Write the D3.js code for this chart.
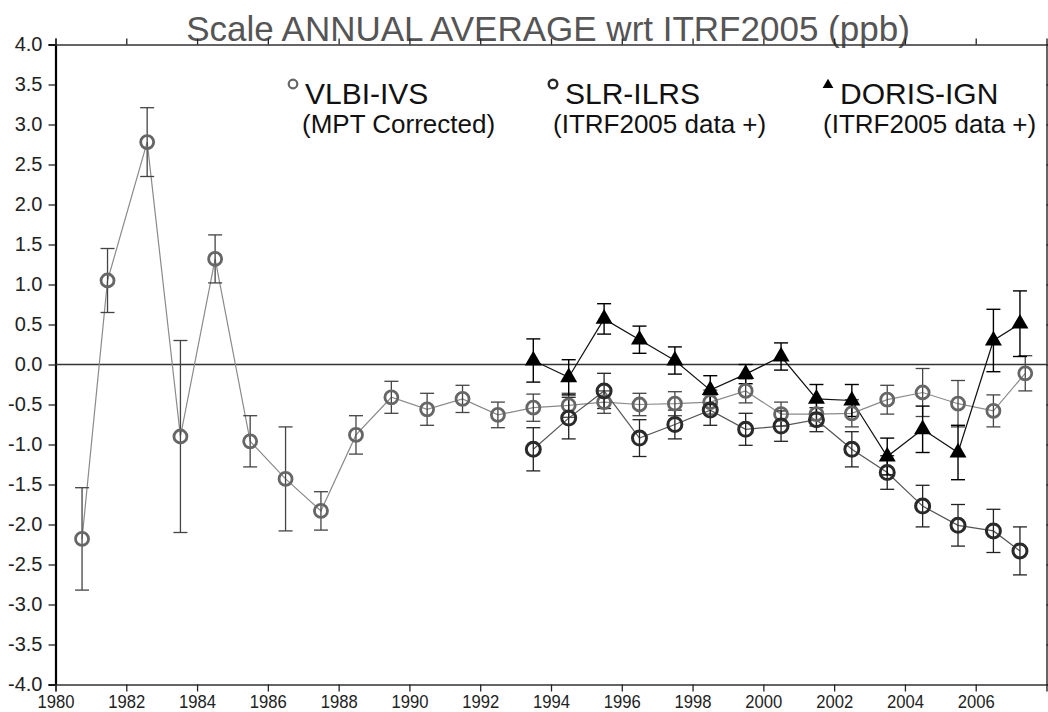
<!DOCTYPE html>
<html>
<head>
<meta charset="utf-8">
<script src="https://cdn.jsdelivr.net/npm/d3@7"></script>
<style>
  html, body { margin: 0; padding: 0; background: #fff; }
  svg { display: block; font-family: "Liberation Sans", Arial, sans-serif; }
</style>
</head>
<body>
<svg id="chart" width="1048" height="712"></svg>
<script>
// ---------- data ----------
const vlbiYears  = [1980.75, 1981.47, 1982.59, 1983.53, 1984.51, 1985.5, 1986.5, 1987.5, 1988.49, 1989.49, 1990.5, 1991.5, 1992.5, 1993.5, 1994.5, 1995.5, 1996.5, 1997.5, 1998.5, 1999.5, 2000.5, 2001.5, 2002.5, 2003.5, 2004.5, 2005.5, 2006.5, 2007.4];
const vlbiValues = [-2.18, 1.05, 2.78, -0.90, 1.32, -0.96, -1.43, -1.83, -0.88, -0.41, -0.56, -0.43, -0.63, -0.54, -0.51, -0.47, -0.50, -0.49, -0.47, -0.33, -0.62, -0.62, -0.61, -0.44, -0.35, -0.49, -0.58, -0.11];
const vlbiErrors = [0.64, 0.40, 0.43, 1.20, 0.30, 0.32, 0.65, 0.24, 0.24, 0.20, 0.20, 0.17, 0.16, 0.17, 0.15, 0.14, 0.14, 0.15, 0.15, 0.15, 0.15, 0.15, 0.17, 0.18, 0.30, 0.29, 0.20, 0.22];

const slrYears  = [1993.5, 1994.5, 1995.5, 1996.5, 1997.5, 1998.5, 1999.5, 2000.5, 2001.5, 2002.5, 2003.5, 2004.5, 2005.5, 2006.5, 2007.25];
const slrValues = [-1.06, -0.67, -0.33, -0.92, -0.75, -0.57, -0.81, -0.77, -0.69, -1.06, -1.35, -1.77, -2.01, -2.08, -2.33];
const slrErrors = [0.27, 0.26, 0.22, 0.23, 0.18, 0.19, 0.20, 0.19, 0.15, 0.22, 0.21, 0.26, 0.26, 0.27, 0.30];

const dorisYears  = [1993.5, 1994.5, 1995.5, 1996.5, 1997.5, 1998.5, 1999.5, 2000.5, 2001.5, 2002.5, 2003.5, 2004.5, 2005.5, 2006.5, 2007.25];
const dorisValues = [0.05, -0.16, 0.57, 0.31, 0.05, -0.32, -0.12, 0.10, -0.43, -0.45, -1.15, -0.81, -1.10, 0.30, 0.51];
const dorisErrors = [0.27, 0.22, 0.19, 0.17, 0.17, 0.18, 0.12, 0.17, 0.18, 0.20, 0.23, 0.29, 0.34, 0.39, 0.41];

const xTicks = [1980, 1982, 1984, 1986, 1988, 1990, 1992, 1994, 1996, 1998, 2000, 2002, 2004, 2006];
const yTicks = [-4.0, -3.5, -3.0, -2.5, -2.0, -1.5, -1.0, -0.5, 0.0, 0.5, 1.0, 1.5, 2.0, 2.5, 3.0, 3.5, 4.0];

const titleText = "Scale ANNUAL AVERAGE wrt ITRF2005 (ppb)";
const legendNames = ["VLBI-IVS", "SLR-ILRS", "DORIS-IGN"];
const legendSubs  = ["(MPT Corrected)", "(ITRF2005 data +)", "(ITRF2005 data +)"];

// ---------- layout ----------
const svg = d3.select("#chart");
const L = 55.5, R = 1046.5, T = 44.5, B = 684.5;
const x = d3.scaleLinear().domain([1980, 2008]).range([L, R]);
const y = d3.scaleLinear().domain([-4, 4]).range([B, T]);

const mk = (ys, vs, es) => ys.map((yr, i) => ({ yr, v: vs[i], e: es[i] }));
const vlbi = mk(vlbiYears, vlbiValues, vlbiErrors);
const slr = mk(slrYears, slrValues, slrErrors);
const doris = mk(dorisYears, dorisValues, dorisErrors);

// title
svg.append("text")
  .attr("x", 548).attr("y", 41)
  .attr("text-anchor", "middle")
  .attr("font-size", 35)
  .attr("fill", "#555")
  .text(titleText);

// axes
const fmtY = d => d.toFixed(1);
const gL = svg.append("g").attr("transform", `translate(${L},0)`)
  .call(d3.axisLeft(y).tickValues(yTicks).tickFormat(fmtY).tickSize(7).tickPadding(6));
const gB = svg.append("g").attr("transform", `translate(0,${B})`)
  .call(d3.axisBottom(x).tickValues(xTicks).tickFormat(d3.format("d")).tickSize(7).tickPadding(3));
const gT = svg.append("g").attr("transform", `translate(0,${T})`)
  .call(d3.axisTop(x).tickValues(xTicks).tickFormat("").tickSize(6));
const gR = svg.append("g").attr("transform", `translate(${R},0)`)
  .call(d3.axisRight(y).tickValues(yTicks).tickFormat("").tickSize(6));

[gL, gB, gT, gR].forEach(g => {
  g.select(".domain").attr("stroke", "#333").attr("stroke-width", 1.5);
  g.selectAll(".tick line").attr("stroke", "#222").attr("stroke-width", 1.3);
  g.selectAll(".tick text").attr("fill", "#222").attr("font-family", "Liberation Sans, Arial, sans-serif");
});
gL.select(".domain").attr("stroke", "#000").attr("stroke-width", 2.2);
gL.selectAll(".tick text").attr("font-size", 20);
gB.selectAll(".tick text").attr("font-size", 19)
  .attr("textLength", 37).attr("lengthAdjust", "spacingAndGlyphs");

// zero line
svg.append("line")
  .attr("x1", L).attr("x2", R).attr("y1", y(0)).attr("y2", y(0))
  .attr("stroke", "#333").attr("stroke-width", 1.5);

// series drawing
const line = d3.line().x(d => x(d.yr)).y(d => y(d.v));
function drawLine(data, color, w) {
  svg.append("path").datum(data).attr("d", line)
    .attr("fill", "none").attr("stroke", color).attr("stroke-width", w);
}
function drawErr(data, color, w) {
  const g = svg.append("g").attr("stroke", color).attr("stroke-width", w).attr("fill", "none");
  const cap = 7;
  data.forEach(d => {
    g.append("line").attr("x1", x(d.yr)).attr("x2", x(d.yr)).attr("y1", y(d.v + d.e)).attr("y2", y(d.v - d.e));
    g.append("line").attr("x1", x(d.yr) - cap).attr("x2", x(d.yr) + cap).attr("y1", y(d.v + d.e)).attr("y2", y(d.v + d.e));
    g.append("line").attr("x1", x(d.yr) - cap).attr("x2", x(d.yr) + cap).attr("y1", y(d.v - d.e)).attr("y2", y(d.v - d.e));
  });
}
function drawCircles(data, color, w, r) {
  svg.append("g").selectAll("circle").data(data).join("circle")
    .attr("cx", d => x(d.yr)).attr("cy", d => y(d.v)).attr("r", r)
    .attr("fill", "none").attr("stroke", color).attr("stroke-width", w);
}
const tri = d3.symbol().type(d3.symbolTriangle).size(125);
function drawTriangles(data) {
  svg.append("g").selectAll("path").data(data).join("path")
    .attr("transform", d => `translate(${x(d.yr)},${y(d.v)})`)
    .attr("d", tri).attr("fill", "#000");
}

drawLine(vlbi, "#8a8a8a", 1.2);
drawLine(slr, "#555", 1.2);
drawLine(doris, "#111", 1.2);

drawErr(vlbi, "#444", 1.3);
drawErr(slr, "#222", 1.3);
drawErr(doris, "#000", 1.4);

drawCircles(vlbi, "#666", 2.8, 6.5);
drawCircles(slr, "#2a2a2a", 3, 7);
drawTriangles(doris);

// legend
const legX = [305, 565, 840];
const legSubX = [302, 553, 823];
const leg = svg.append("g").attr("font-family", "Liberation Sans, Arial, sans-serif");
legendNames.forEach((name, i) => {
  leg.append("text").attr("x", legX[i]).attr("y", 104).attr("font-size", 30).attr("fill", "#111").text(name);
  leg.append("text").attr("x", legSubX[i]).attr("y", 133).attr("font-size", 26).attr("fill", "#111").text(legendSubs[i]);
});
leg.append("circle").attr("cx", legX[0] - 12).attr("cy", 84).attr("r", 4.3).attr("fill", "none").attr("stroke", "#666").attr("stroke-width", 2.2);
leg.append("circle").attr("cx", legX[1] - 12).attr("cy", 84).attr("r", 4.3).attr("fill", "none").attr("stroke", "#2a2a2a").attr("stroke-width", 2.4);
leg.append("path").attr("transform", `translate(${legX[2] - 12},85)`).attr("d", d3.symbol().type(d3.symbolTriangle).size(50)).attr("fill", "#000");
</script>
</body>
</html>
